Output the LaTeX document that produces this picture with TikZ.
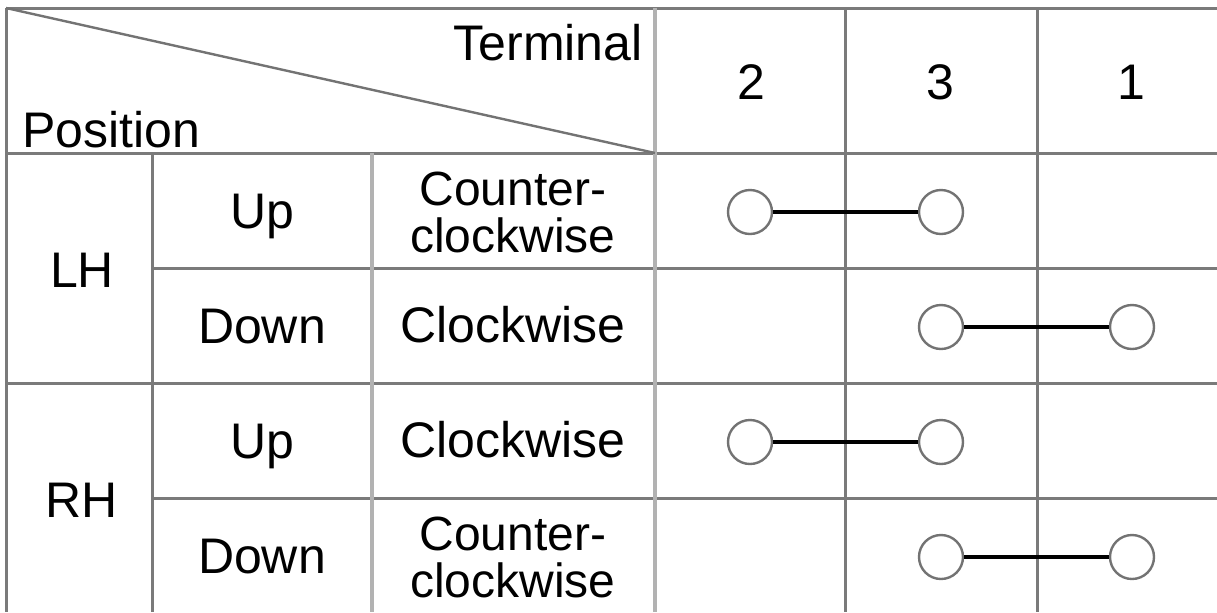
\documentclass[tikz,border=0pt]{standalone}
\usepackage{fontspec}
\setmainfont{Liberation Sans}
\tikzset{
	gridline/.style={draw=black!52,line width=1.5pt},
	softline/.style={draw=black!30,line width=2.2pt},
	celltext/.style={font=\fontsize{25}{23}\selectfont,align=center,inner sep=0pt},
	twoline/.style={celltext,font=\fontsize{24}{23.5}\selectfont},
	terminal/.style={circle,draw=black!55,fill=white,line width=1.2pt,minimum size=22pt,inner sep=0pt},
	link/.style={line width=1.6pt,black},
}
\begin{document}
\begin{tikzpicture}[x=0.5pt,y=-0.5pt]
	\useasboundingbox (0,0) rectangle (1217,612);
	
	% grid lines
	\draw[gridline] (6,8) -- (1217,8);
	\draw[gridline] (6,153) -- (1217,153);
	\draw[gridline] (6,383) -- (1217,383);
	\foreach \y in {268,498}
	{
		\draw[gridline] (152,\y) -- (1217,\y);
	}
	\draw[gridline] (6,8) -- (6,612);
	\draw[gridline] (152,153) -- (152,612);
	\draw[softline] (372,153) -- (372,612);
	\draw[softline] (655,8) -- (655,612);
	\foreach \x in {845,1037}
	{
		\draw[gridline] (\x,8) -- (\x,612);
	}
	% the corner cell
	\draw[draw=black!55,line width=1.2pt] (6,8) -- (655,153);
	\node[celltext,anchor=base east] (terminal) at (643,60) {Terminal};
	\node[celltext,anchor=base west] (position) at (22,147) {Position};
	
	% terminal numbers
	\foreach \n/\x in {2/751,3/940,1/1131}
	{
		\node[celltext,anchor=base] (t\n) at (\x,99) {\n};
	}
	
	% positions
	\node[celltext,anchor=base] (lh) at (82,287) {LH};
	\node[celltext,anchor=base] (rh) at (82,517) {RH};
	\foreach \r/\y/\pos in {1/210/Up,2/325/Down,3/440/Up,4/555/Down}
	{
		\node[celltext,anchor=base] (pos\r) at (262,\y+18) {\pos};
	}
	\node[twoline] (dir1) at (513,212) {Counter-\\clockwise};
	\node[celltext] (dir2) at (513,325) {Clockwise};
	\node[celltext] (dir3) at (513,440) {Clockwise};
	\node[twoline] (dir4) at (513,557) {Counter-\\clockwise};
	
	% the switch contacts
	\foreach \r/\y/\a/\b in {1/212/750/941,2/327/941/1132,3/442/750/941,4/557/941/1132}
	{
		\node[terminal] (ca\r) at (\a,\y) {};
		\node[terminal] (cb\r) at (\b,\y) {};
		\draw[link] (ca\r) -- (cb\r);
	}
\end{tikzpicture}
\end{document}
